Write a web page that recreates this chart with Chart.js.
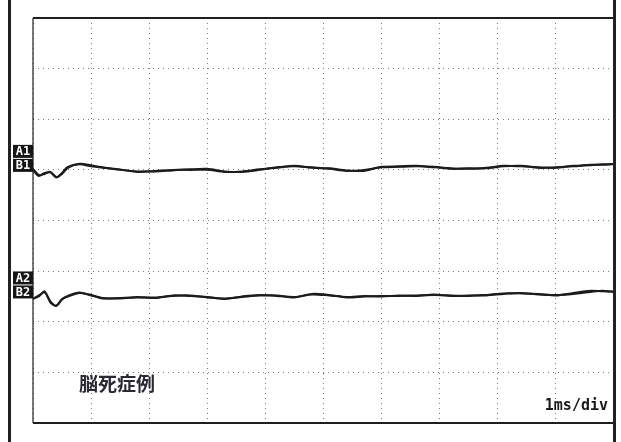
<!DOCTYPE html>
<html>
<head>
<meta charset="utf-8">
<script src="https://cdn.jsdelivr.net/npm/chart.js"></script>
<style>
  html, body { margin: 0; padding: 0; background: #fff; }
  #wrap { width: 621px; height: 442px; position: relative; }
</style>
</head>
<body>
<div id="wrap"><canvas id="abr"></canvas></div>
<script>
// time axis (ms), 1 ms per division, 10 divisions
const timeMs = [0, 0.1, 0.2, 0.3, 0.4, 0.5, 0.6, 0.8, 1.0, 1.2, 1.5, 1.8, 2.1, 2.4, 2.7, 3.0, 3.3, 3.6, 3.9, 4.2,
  4.5, 4.8, 5.1, 5.4, 5.7, 6.0, 6.3, 6.6, 6.9, 7.2, 7.5, 7.8, 8.1, 8.4, 8.7, 9.0, 9.3, 9.6, 9.8, 10.0];

// traces in vertical divisions (0 = bottom of screen, 8 = top)
const traceA1 = [5.02, 4.90, 4.92, 4.96, 4.86, 4.92, 5.04, 5.12, 5.09, 5.05, 5.00, 4.97, 4.97, 4.99, 5.01, 5.02, 4.97, 4.96, 5.00, 5.05,
  5.07, 5.05, 5.03, 4.99, 4.98, 5.06, 5.07, 5.08, 5.05, 5.03, 5.02, 5.04, 5.08, 5.07, 5.05, 5.04, 5.08, 5.09, 5.11, 5.11];
const traceB1 = [5.00, 4.88, 4.94, 4.95, 4.85, 4.94, 5.06, 5.11, 5.07, 5.04, 5.01, 4.96, 4.98, 5.00, 5.00, 5.00, 4.96, 4.97, 5.01, 5.04,
  5.08, 5.04, 5.02, 4.98, 5.00, 5.05, 5.06, 5.07, 5.06, 5.02, 5.03, 5.03, 5.07, 5.08, 5.04, 5.05, 5.07, 5.10, 5.10, 5.12];
const traceA2 = [2.46, 2.50, 2.60, 2.38, 2.32, 2.45, 2.50, 2.57, 2.53, 2.46, 2.47, 2.48, 2.48, 2.51, 2.52, 2.48, 2.46, 2.49, 2.52, 2.52,
  2.48, 2.55, 2.53, 2.48, 2.50, 2.51, 2.51, 2.52, 2.53, 2.52, 2.51, 2.53, 2.56, 2.56, 2.55, 2.52, 2.57, 2.61, 2.60, 2.60];
const traceB2 = [2.45, 2.52, 2.58, 2.40, 2.31, 2.44, 2.51, 2.58, 2.52, 2.47, 2.46, 2.49, 2.47, 2.52, 2.51, 2.49, 2.45, 2.50, 2.53, 2.51,
  2.49, 2.54, 2.52, 2.49, 2.51, 2.50, 2.52, 2.51, 2.54, 2.51, 2.52, 2.52, 2.55, 2.57, 2.54, 2.53, 2.55, 2.59, 2.61, 2.59];

// channel labels and the level they sit at
const channelLabels = [["A1", "B1"], ["A2", "B2"]];
const channelLevels = [5.0, 2.5];

const caption = "脳死症例";
const timebase = "1ms/div";

const toPoints = (ys) => ys.map((y, i) => ({ x: timeMs[i], y: y }));

const traceStyle = {
  borderColor: "#1c1c1c",
  borderWidth: 2,
  pointRadius: 0,
  tension: 0.3,
  fill: false,
};

// frame, channel tags and texts
const scopeDecor = {
  id: "scopeDecor",
  afterDraw(chart) {
    const { ctx, chartArea: a, scales } = chart;
    ctx.save();

    // outer page lines
    ctx.fillStyle = "#222";
    ctx.fillRect(8, 0, 3, 442);
    ctx.fillRect(a.right - 1, 0, 3, 442);

    // screen frame
    ctx.strokeStyle = "#1f1f1f";
    ctx.lineWidth = 2;
    ctx.beginPath();
    ctx.moveTo(a.left, a.top);
    ctx.lineTo(a.right, a.top);
    ctx.moveTo(a.left, a.bottom);
    ctx.lineTo(a.right, a.bottom);
    ctx.stroke();
    ctx.lineWidth = 1.2;
    ctx.beginPath();
    ctx.moveTo(a.left, a.top);
    ctx.lineTo(a.left, a.bottom);
    ctx.stroke();

    // channel tags
    ctx.font = "bold 12px 'DejaVu Sans Mono', monospace";
    ctx.textAlign = "center";
    ctx.textBaseline = "middle";
    channelLabels.forEach((pair, k) => {
      const yMid = scales.y.getPixelForValue(channelLevels[k]);
      const tops = [yMid - 25, yMid - 11];
      pair.forEach((txt, j) => {
        ctx.fillStyle = "#161616";
        ctx.fillRect(a.left - 20, tops[j], 20, 13);
        ctx.fillStyle = "#fff";
        ctx.fillText(txt, a.left - 10, tops[j] + 7);
      });
    });

    // caption
    ctx.fillStyle = "#2a2a35";
    ctx.textAlign = "left";
    ctx.font = "bold 19px 'Noto Sans CJK JP', sans-serif";
    ctx.fillText(caption, 79, 384);

    // timebase
    ctx.fillStyle = "#1a1a1a";
    ctx.textAlign = "right";
    ctx.font = "bold 15px 'DejaVu Sans Mono', monospace";
    ctx.fillText(timebase, 608, 406);

    ctx.restore();
  },
};

const ctxEl = document.getElementById("abr");

new Chart(ctxEl, {
  type: "line",
  data: {
    datasets: [
      Object.assign({ label: "A1", data: toPoints(traceA1) }, traceStyle),
      Object.assign({ label: "B1", data: toPoints(traceB1) }, traceStyle),
      Object.assign({ label: "A2", data: toPoints(traceA2) }, traceStyle),
      Object.assign({ label: "B2", data: toPoints(traceB2) }, traceStyle),
    ],
  },
  options: {
    responsive: true,
    maintainAspectRatio: false,
    animation: false,
    layout: { padding: { left: 33, right: 7, top: 18, bottom: 19 } },
    plugins: {
      legend: { display: false },
      tooltip: { enabled: false },
    },
    scales: {
      x: {
        type: "linear",
        min: 0,
        max: 10,
        afterFit: (s) => { s.height = 0; },
        ticks: { display: false, stepSize: 1 },
        grid: { color: "#777", lineWidth: 1, drawTicks: false },
        border: { display: false, dash: [1, 4] },
      },
      y: {
        min: 0,
        max: 8,
        afterFit: (s) => { s.width = 0; },
        ticks: { display: false, stepSize: 1 },
        grid: { color: "#777", lineWidth: 1, drawTicks: false },
        border: { display: false, dash: [1, 4] },
      },
    },
  },
  plugins: [scopeDecor],
});
</script>
</body>
</html>
